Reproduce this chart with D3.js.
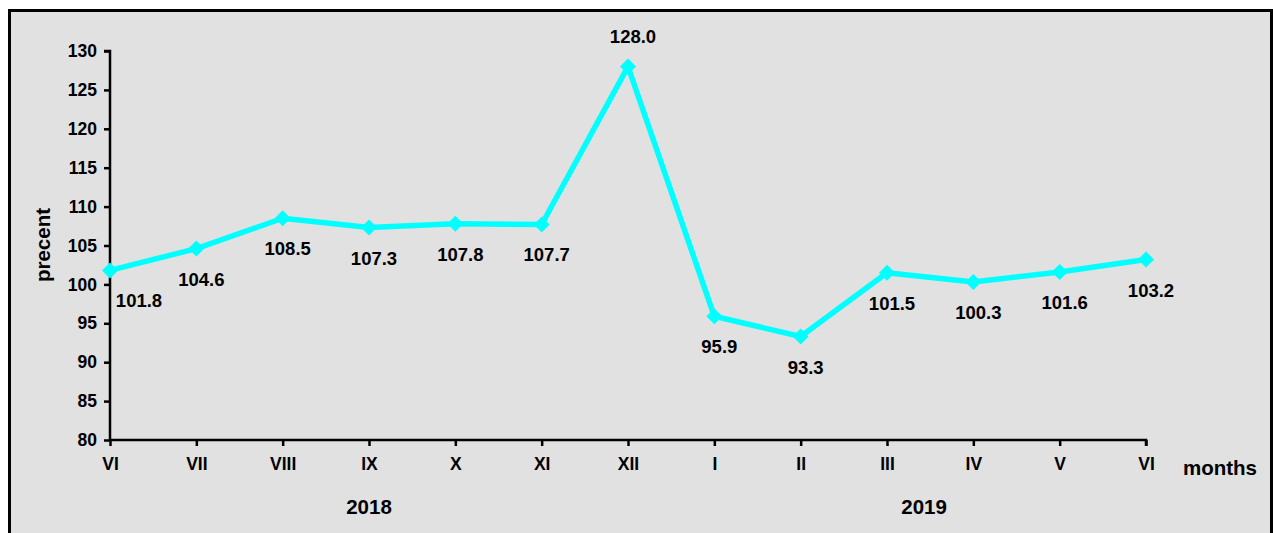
<!DOCTYPE html>
<html><head><meta charset="utf-8">
<script src="https://cdn.jsdelivr.net/npm/d3@7"></script>
<style>body{margin:0;background:#fff}svg{display:block;font-family:"Liberation Sans",Arial,sans-serif;font-weight:bold}</style>
</head><body>
<svg id="c" width="1273" height="533"></svg>
<script>
const months = ["VI","VII","VIII","IX","X","XI","XII","I","II","III","IV","V","VI"];
const values = [101.8,104.6,108.5,107.3,107.8,107.7,128.0,95.9,93.3,101.5,100.3,101.6,103.2];
const yTicks = [80,85,90,95,100,105,110,115,120,125,130];
const years = ["2018","2019"];
const yearAt = [3, 9.43];

const svg = d3.select("#c");
svg.append("rect").attr("x",9.5).attr("y",10.5).attr("width",1262).attr("height",540)
  .attr("fill","#e1e1e1").attr("stroke","#000").attr("stroke-width",3);

const x = d3.scalePoint().domain(d3.range(months.length)).range([110,1146]);
const y = d3.scaleLinear().domain([80,130]).range([440,51]);

const yAxis = svg.append("g").attr("transform","translate(110,0)")
  .call(d3.axisLeft(y).tickValues(yTicks).tickSize(6).tickPadding(7));
const xAxis = svg.append("g").attr("transform","translate(0,440)")
  .call(d3.axisBottom(x).tickSize(6).tickPadding(12).tickFormat(i=>months[i]));
[yAxis,xAxis].forEach(g=>{
  g.select(".domain").attr("stroke","#000").attr("stroke-width",2.5);
  g.selectAll(".tick line").attr("stroke","#000").attr("stroke-width",2.5);
  g.selectAll("text").attr("fill","#000").style("font-size","17.5px").style("font-weight","bold").style("font-family","'Liberation Sans',Arial,sans-serif");
});
yAxis.select(".domain").attr("d","M-6,51H0V440");
xAxis.select(".domain").attr("d","M110,0H1146V6");

svg.append("text").attr("transform","translate(50,245) rotate(-90)")
  .attr("text-anchor","middle").style("font-size","20.5px").text("precent");
svg.append("text").attr("x",1220).attr("y",475).attr("text-anchor","middle")
  .style("font-size","20.5px").text("months");
years.forEach((t,i)=>{
  const p = x(Math.floor(yearAt[i])) + (yearAt[i]%1)*x.step();
  svg.append("text").attr("x",p).attr("y",514).attr("text-anchor","middle")
    .style("font-size","20.5px").text(t);
});

const line = d3.line().x((d,i)=>x(i)).y(d=>y(d));
svg.append("path").datum(values).attr("d",line).attr("fill","none")
  .attr("stroke","#00ffff").attr("stroke-width",5.5).attr("stroke-linejoin","round");
svg.selectAll(".m").data(values).enter().append("path")
  .attr("transform",(d,i)=>`translate(${x(i)},${y(d)})`)
  .attr("d","M0,-8L8,0L0,8L-8,0Z").attr("fill","#00ffff");

const maxV = d3.max(values);
svg.selectAll(".lbl").data(values).enter().append("text")
  .attr("x",(d,i)=>x(i)+(i===0?29:5))
  .attr("y",(d,i)=>y(d)+(d===maxV?-30:31)+6)
  .attr("text-anchor","middle").style("font-size","18.5px")
  .text(d=>d.toFixed(1));
</script>
</body></html>
